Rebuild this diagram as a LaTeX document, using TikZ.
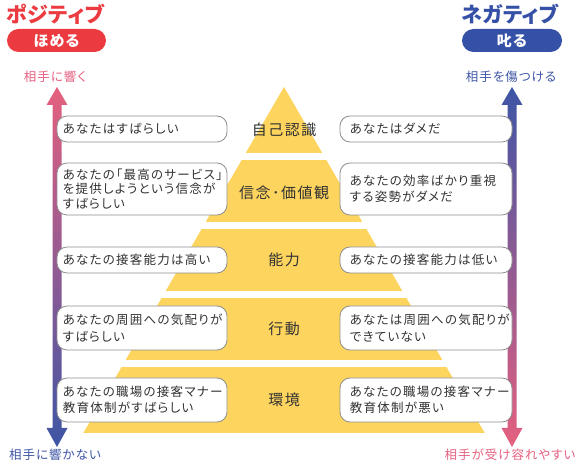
\documentclass[tikz,border=0pt]{standalone}
\usepackage{fontspec}
\newfontfamily\jpbox[LetterSpace=10,RawFeature=+palt]{Noto Sans CJK JP}
\newfontfamily\jpband[LetterSpace=10]{Noto Sans CJK JP}
\newfontfamily\jplab[LetterSpace=8,RawFeature=+palt]{Noto Sans CJK JP}
\newfontfamily\jphead[LetterSpace=3,RawFeature=+palt]{Noto Sans CJK JP}
\newfontfamily\jppill[LetterSpace=8,RawFeature=+palt]{Noto Sans CJK JP}
\usetikzlibrary{calc}
\definecolor{posred}{HTML}{EC3B40}
\definecolor{negblue}{HTML}{3550A7}
\definecolor{lpink}{HTML}{E5607F}
\definecolor{lblue}{HTML}{3D55A5}
\definecolor{pyel}{HTML}{FDD45E}
\definecolor{boxgray}{HTML}{8E8E8E}
\definecolor{txt}{HTML}{333333}
\tikzset{
  band/.style={inner sep=0pt, text=txt, font={\jpband\fontsize{15}{18}\selectfont}},
  msgbox/.style={draw=boxgray, line width=0.8pt, fill=white, rounded corners=10pt, inner sep=0pt},
  msg/.style={inner sep=0pt, anchor=west, align=left, text=txt, font={\jpbox\fontsize{12.5}{16.5}\selectfont}},
  msgthree/.style={msg, font={\jpbox\fontsize{12.5}{14.7}\selectfont}},
  pill/.style={inner sep=0pt, rounded corners=11.5pt, minimum height=23pt, text=white, font={\jppill\bfseries\fontsize{15}{17}\selectfont}},
  head/.style={inner sep=0pt, font={\jphead\bfseries\fontsize{21}{23}\selectfont}},
  lab/.style={inner sep=0pt, font={\jplab\fontsize{12.5}{14}\selectfont}}
}
\begin{document}
\begin{tikzpicture}[x=1pt,y=-1pt]
\useasboundingbox (0,0) rectangle (579,470);
% pyramid
\coordinate (apex) at (284,87);
\begin{scope}
  \clip (apex) -- (484.7,433) -- (83.3,433) -- cycle;
  \fill[pyel] (0,80) rectangle (579,153);
  \fill[pyel] (0,160) rectangle (579,222);
  \fill[pyel] (0,229) rectangle (579,291);
  \fill[pyel] (0,298) rectangle (579,360);
  \fill[pyel] (0,367) rectangle (579,433);
\end{scope}
% arrows
\coordinate (LT) at (57,87);
\coordinate (LB) at (57,447);
\coordinate (RT) at (512,87);
\coordinate (RB) at (512,447);
\shade[top color=lpink, bottom color=lblue]
  (LT) -- ($(LT)+(10.5,18)$) -- ($(LT)+(4.5,18)$) -- ($(LB)+(4.5,-19)$) -- ($(LB)+(10.5,-19)$) -- (LB)
  -- ($(LB)+(-10.5,-19)$) -- ($(LB)+(-4.5,-19)$) -- ($(LT)+(-4.5,18)$) -- ($(LT)+(-10.5,18)$) -- cycle;
\shade[top color=lblue, bottom color=lpink]
  (RT) -- ($(RT)+(10.5,18)$) -- ($(RT)+(4.5,18)$) -- ($(RB)+(4.5,-19)$) -- ($(RB)+(10.5,-19)$) -- (RB)
  -- ($(RB)+(-10.5,-19)$) -- ($(RB)+(-4.5,-19)$) -- ($(RT)+(-4.5,18)$) -- ($(RT)+(-10.5,18)$) -- cycle;
% band labels
\node[band] (b1) at (284,130) {自己認識};
\node[band] (b2) at (284,193) {信念･価値観};
\node[band] (b3) at (284,260) {能力};
\node[band] (b4) at (284,329) {行動};
\node[band] (b5) at (284,400) {環境};
% left boxes
\node[msgbox, minimum width=170pt, minimum height=26pt] (l1) at (142,129) {};
\node[msgbox, minimum width=170pt, minimum height=52pt] (l2) at (142,189) {};
\node[msgbox, minimum width=170pt, minimum height=26pt] (l3) at (142,260) {};
\node[msgbox, minimum width=170pt, minimum height=44pt] (l4) at (142,328) {};
\node[msgbox, minimum width=170pt, minimum height=44pt] (l5) at (142,400) {};
% right boxes
\node[msgbox, minimum width=172pt, minimum height=26pt] (r1) at (426,129) {};
\node[msgbox, minimum width=172pt, minimum height=52pt] (r2) at (426,189) {};
\node[msgbox, minimum width=172pt, minimum height=26pt] (r3) at (426,260) {};
\node[msgbox, minimum width=172pt, minimum height=44pt] (r4) at (426,328) {};
\node[msgbox, minimum width=172pt, minimum height=44pt] (r5) at (426,400) {};
% left texts
\node[msg] (lt1) at ($(l1.west)+(6,0)$) {あなたはすばらしい};
\node[msgthree] (lt2) at ($(l2.west)+(6,0)$) {あなたの「最高のサービス」\\を提供しようという信念が\\すばらしい};
\node[msg] (lt3) at ($(l3.west)+(6,0)$) {あなたの接客能力は高い};
\node[msg] (lt4) at ($(l4.west)+(6,0)$) {あなたの周囲への気配りが\\すばらしい};
\node[msg] (lt5) at ($(l5.west)+(6,0)$) {あなたの職場の接客マナー\\教育体制がすばらしい};
% right texts
\node[msg] (rt1) at ($(r1.west)+(10,0)$) {あなたはダメだ};
\node[msg] (rt2) at ($(r2.west)+(10,0)$) {あなたの効率ばかり重視\\する姿勢がダメだ};
\node[msg] (rt3) at ($(r3.west)+(10,0)$) {あなたの接客能力は低い};
\node[msg] (rt4) at ($(r4.west)+(10,0)$) {あなたは周囲への気配りが\\できていない};
\node[msg] (rt5) at ($(r5.west)+(10,0)$) {あなたの職場の接客マナー\\教育体制が悪い};
% headers
\node[head, text=posred, anchor=west] (hpos) at (6,14) {ポジティブ};
\node[pill, fill=posred, minimum width=99pt] (ppos) at (56.5,40.5) {ほめる};
\node[head, text=negblue] (hneg) at (510,14) {ネガティブ};
\node[pill, fill=negblue, minimum width=100pt] (pneg) at (512,40.5) {叱る};
% axis labels
\node[lab, text=lpink] (ltop) at (55,77) {相手に響く};
\node[lab, text=lblue] (rtop) at (511,77) {相手を傷つける};
\node[lab, text=lblue] (lbot) at (55,455) {相手に響かない};
\node[lab, text=lpink] (rbot) at (510,455) {相手が受け容れやすい};
\end{tikzpicture}
\end{document}
